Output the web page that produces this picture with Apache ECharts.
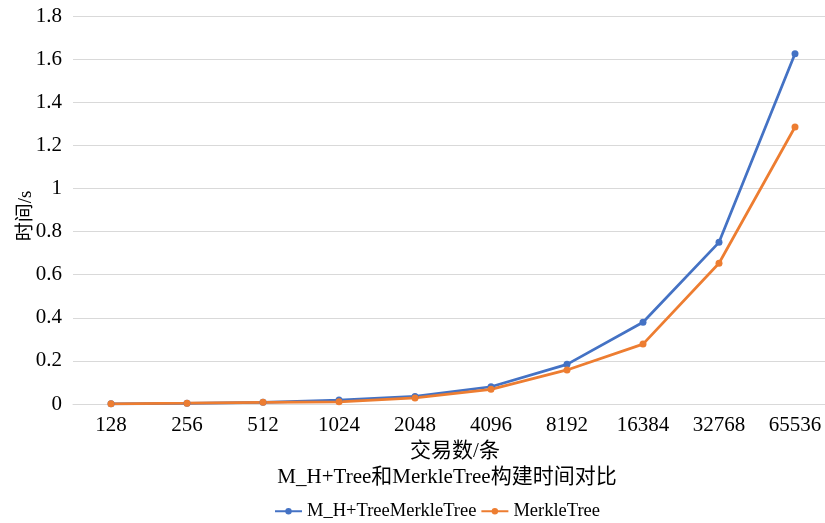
<!DOCTYPE html>
<html><head><meta charset="utf-8">
<script src="https://cdn.jsdelivr.net/npm/echarts@6/dist/echarts.min.js"></script>
<style>html,body{margin:0;padding:0;background:#fff;overflow:hidden}#c{width:845px;height:523px}</style>
</head><body><div id="c"></div>
<script>
var categories = ['128','256','512','1024','2048','4096','8192','16384','32768','65536'];
var mhTree = [0.001, 0.003, 0.008, 0.018, 0.035, 0.08, 0.184, 0.379, 0.75, 1.625];
var merkleTree = [0.001, 0.004, 0.008, 0.01, 0.028, 0.068, 0.158, 0.278, 0.653, 1.285];
var seriesNames = ['M_H+TreeMerkleTree', 'MerkleTree'];
var titleText = 'M_H+Tree和MerkleTree构建时间对比';
var xName = '交易数/条';
var yName = '时间/s';

var font = '"Liberation Serif", "Times New Roman", "Noto Sans CJK SC", serif';
var chart = echarts.init(document.getElementById('c'));
chart.setOption({
  animation: false,
  title: {
    text: titleText, left: 442, top: 462, textAlign: 'center',
    textStyle: {fontFamily: font, fontSize: 21, fontWeight: 'normal', color: '#000'}
  },
  legend: {
    top: 497, left: 269, itemWidth: 27, itemHeight: 8, itemGap: 4,
    textStyle: {fontFamily: font, fontSize: 18.5, color: '#000'},
    data: seriesNames
  },
  grid: {left: 73, top: 16, width: 760, height: 388},
  xAxis: {
    type: 'category', data: categories, boundaryGap: true,
    name: xName, nameLocation: 'middle', nameGap: 35,
    nameTextStyle: {fontFamily: font, fontSize: 21, color: '#000', padding: [0, 0, 0, 4]},
    axisLine: {lineStyle: {color: '#d9d9d9'}},
    axisTick: {show: false},
    axisLabel: {fontFamily: font, fontSize: 21, color: '#000', margin: 11}
  },
  yAxis: {
    type: 'value', min: 0, max: 1.8, interval: 0.2,
    name: yName, nameLocation: 'middle', nameGap: 37, nameMoveOverlap: false,
    nameTextStyle: {fontFamily: font, fontSize: 19, color: '#000', padding: [0, 12, 0, 0]},
    axisLine: {show: false}, axisTick: {show: false},
    splitLine: {lineStyle: {color: '#d9d9d9'}},
    axisLabel: {fontFamily: font, fontSize: 21, color: '#000', margin: 11,
      formatter: function(v){ return String(Math.round(v*10)/10); }}
  },
  series: [
    {name: seriesNames[0], type: 'line', data: mhTree, symbol: 'circle', symbolSize: 7,
     lineStyle: {width: 2.75, color: '#4472C4'}, itemStyle: {color: '#4472C4'}},
    {name: seriesNames[1], type: 'line', data: merkleTree, symbol: 'circle', symbolSize: 7,
     lineStyle: {width: 2.75, color: '#ED7D31'}, itemStyle: {color: '#ED7D31'}}
  ]
});
</script></body></html>
